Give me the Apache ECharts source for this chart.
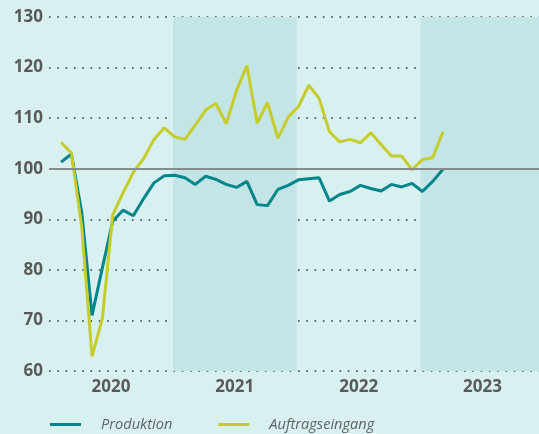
<!DOCTYPE html>
<html>
<head>
<meta charset="utf-8">
<script src="https://cdn.jsdelivr.net/npm/echarts@6/dist/echarts.min.js"></script>
<style>
html,body{margin:0;padding:0;background:#d9f0f0;}
#c{width:539px;height:434px;}
</style>
</head>
<body>
<div id="c"></div>
<script>
// Months Jan 2020 .. Feb 2023
const months = [
  '2020-01','2020-02','2020-03','2020-04','2020-05','2020-06','2020-07','2020-08','2020-09','2020-10','2020-11','2020-12',
  '2021-01','2021-02','2021-03','2021-04','2021-05','2021-06','2021-07','2021-08','2021-09','2021-10','2021-11','2021-12',
  '2022-01','2022-02','2022-03','2022-04','2022-05','2022-06','2022-07','2022-08','2022-09','2022-10','2022-11','2022-12',
  '2023-01','2023-02'
];
const produktion = [
  101.3,102.9,91.4,71.0,80.4,89.6,91.8,90.7,94.1,97.2,98.6,98.7,
  98.2,96.9,98.5,97.9,96.9,96.3,97.5,92.9,92.7,95.9,96.7,97.8,
  98.0,98.2,93.6,94.9,95.5,96.7,96.1,95.6,96.9,96.4,97.1,95.5,
  97.5,99.9
];
const auftragseingang = [
  105.2,103.1,88.5,62.9,70.4,90.8,95.2,99.3,102.0,105.8,108.1,106.3,
  105.8,108.6,111.6,112.9,108.9,115.5,120.4,109.0,113.1,106.0,110.2,112.3,
  116.5,113.9,107.3,105.3,105.8,105.1,107.1,104.8,102.5,102.5,99.8,101.8,
  102.2,107.3
];
const years = ['2020','2021','2022','2023'];
const yTicks = [60,70,80,90,100,110,120,130];
const seriesNames = ['Produktion','Auftragseingang'];

// year start offset on the month axis (band boundaries)
const yearStart = -1.17;
const xMax = 46.3;
const yearCenters = years.map((y,i)=> yearStart + 12*i + 6);

const chart = echarts.init(document.getElementById('c'), null, {renderer:'canvas'});
const toPts = arr => arr.map((v,i)=>[i,v]);

const bands = years.map((y,i)=>[yearStart+12*i, Math.min(yearStart+12*(i+1), xMax)])
  .filter((b,i)=> i%2===1)
  .map(b=>[{xAxis:b[0]},{xAxis:b[1]}]);

chart.setOption({
  backgroundColor:'#d9f0f0',
  animation:false,
  grid:{left:49,right:0,top:17,bottom:63,containLabel:false},
  xAxis:{
    type:'value', min:yearStart, max:xMax,
    axisLine:{show:false}, axisTick:{show:false}, splitLine:{show:false},
    axisLabel:{
      customValues: yearCenters,
      formatter: v => { const i = Math.round((v - yearStart - 6)/12); return years[i] || ''; },
      color:'#595959', fontSize:17, fontWeight:'bold', fontFamily:'Open Sans', margin:8
    }
  },
  yAxis:{
    type:'value', min:60, max:130, interval:10,
    axisLine:{show:false}, axisTick:{show:false},
    axisLabel:{color:'#595959', fontSize:17, fontWeight:'bold', fontFamily:'Open Sans', margin:6,
      formatter: v => yTicks.includes(v) ? String(v) : ''},
    splitLine:{show:true, lineStyle:{color:'#5f6466', width:2, type:[1.6,6.7]}}
  },
  legend:{
    left:45, top:412, itemWidth:31, itemHeight:3, itemGap:46, icon:'rect',
    data: seriesNames,
    textStyle:{color:'#5f6466', fontSize:14.6, fontStyle:'italic', fontFamily:'Open Sans', padding:[0,0,0,15]}
  },
  series:[
    {
      name:'_bands', type:'line', data:[], silent:true,
      markArea:{silent:true, itemStyle:{color:'#c3e5e5'}, data:bands},
      markLine:{silent:true, symbol:'none', label:{show:false},
        lineStyle:{color:'#878b8c', width:2, type:'solid'}, data:[{yAxis:100}]}
    },
    {
      name:seriesNames[0], type:'line', data:toPts(produktion), showSymbol:false, symbol:'none',
      lineStyle:{color:'#00858a', width:3}, itemStyle:{color:'#00858a'}, z:3
    },
    {
      name:seriesNames[1], type:'line', data:toPts(auftragseingang), showSymbol:false, symbol:'none',
      lineStyle:{color:'#c6cc2c', width:3}, itemStyle:{color:'#c6cc2c'}, z:4
    }
  ]
});
</script>
</body>
</html>
